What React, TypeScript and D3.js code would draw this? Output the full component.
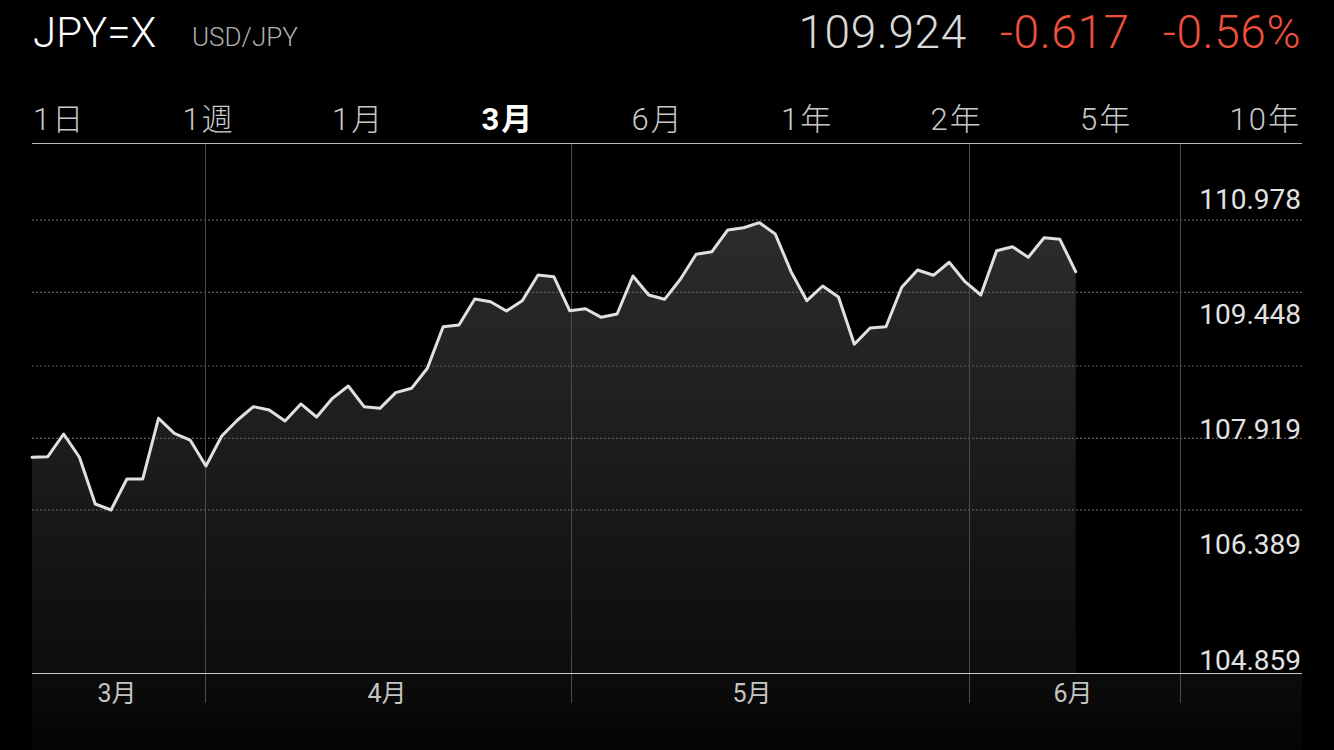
import React, { useEffect, useRef } from "react";
import * as d3 from "d3";

// ---- data ----
const symbol = "JPY=X";
const pairName = "USD/JPY";
const lastPrice = "109.924";
const change = "-0.617";
const changePct = "-0.56%";

const rangeTabs = ["1日", "1週", "1月", "3月", "6月", "1年", "2年", "5年", "10年"];
const activeTab = "3月";

const closes = [
  107.545, 107.553, 107.854, 107.545, 106.924, 106.845, 107.256, 107.256, 108.063, 107.863,
  107.774, 107.429, 107.828, 108.04, 108.217, 108.173, 108.027, 108.253, 108.08, 108.328,
  108.492, 108.217, 108.195, 108.403, 108.461, 108.727, 109.279, 109.302, 109.647, 109.611,
  109.488, 109.625, 109.966, 109.943, 109.492, 109.518, 109.404, 109.448, 109.953, 109.7,
  109.643, 109.909, 110.241, 110.275, 110.564, 110.594, 110.661, 110.511, 110.01, 109.625,
  109.82, 109.674, 109.047, 109.262, 109.279, 109.803, 110.032, 109.962, 110.135, 109.877,
  109.7, 110.289, 110.342, 110.201, 110.461, 110.44, 110.01,
];

const yTickLabels = [110.978, 109.448, 107.919, 106.389, 104.859];
const yGridValues = [110.696, 109.736, 108.757, 107.797, 106.845];

const monthLabels = ["3月", "4月", "5月", "6月"];
const monthLabelIdx = [5.38, 22.45, 45.53, 65.83];
const monthLineIdx = [10.94, 34.11, 59.25, 72.59];

const FONT = "Roboto, 'Noto Sans CJK JP', sans-serif";

export default function App() {
  const ref = useRef<SVGSVGElement | null>(null);

  useEffect(() => {
    document.body.style.margin = "0";
    document.body.style.background = "#000";
    const svg = d3.select(ref.current);
    svg.selectAll("*").remove();

    const W = 1334;
    const left = 32;
    const right = 1302;
    const top = 143;
    const base = 673;

    const x = d3.scaleLinear().domain([0, closes.length - 1]).range([left, 1075.7]);
    const y = d3.scaleLinear().domain([104.859, 110.978]).range([659.5, 198.8]);

    const defs = svg.append("defs");
    const g1 = defs
      .append("linearGradient")
      .attr("id", "areaGrad")
      .attr("gradientUnits", "userSpaceOnUse")
      .attr("x1", 0)
      .attr("x2", 0)
      .attr("y1", 220)
      .attr("y2", base);
    g1.append("stop").attr("offset", "0").attr("stop-color", "#2c2c2c");
    g1.append("stop").attr("offset", "1").attr("stop-color", "#0d0d0d");
    const g2 = defs
      .append("linearGradient")
      .attr("id", "belowGrad")
      .attr("gradientUnits", "userSpaceOnUse")
      .attr("x1", 0)
      .attr("x2", 0)
      .attr("y1", base)
      .attr("y2", 750);
    g2.append("stop").attr("offset", "0").attr("stop-color", "#0c0c0c");
    g2.append("stop").attr("offset", "1").attr("stop-color", "#040404");

    svg.append("rect").attr("width", W).attr("height", 750).attr("fill", "#000");

    // below-baseline subtle fill
    svg
      .append("rect")
      .attr("x", left)
      .attr("y", base)
      .attr("width", right - left)
      .attr("height", 750 - base)
      .attr("fill", "url(#belowGrad)");

    // area
    const area = d3
      .area<number>()
      .x((_, i) => x(i))
      .y0(base)
      .y1((d) => y(d));
    svg.append("path").datum(closes).attr("d", area).attr("fill", "url(#areaGrad)");

    // dotted horizontal gridlines
    svg
      .selectAll(".hgrid")
      .data(yGridValues)
      .enter()
      .append("line")
      .attr("x1", left)
      .attr("x2", right)
      .attr("y1", (d) => y(d))
      .attr("y2", (d) => y(d))
      .attr("stroke", "#5c5c5c")
      .attr("stroke-width", 1.2)
      .attr("stroke-dasharray", "2 2");

    // vertical month lines
    svg
      .selectAll(".vgrid")
      .data(monthLineIdx)
      .enter()
      .append("line")
      .attr("x1", (d) => Math.round(x(d)) + 0.5)
      .attr("x2", (d) => Math.round(x(d)) + 0.5)
      .attr("y1", top)
      .attr("y2", 703)
      .attr("stroke", "#4a4a4a")
      .attr("stroke-width", 1);

    // line
    const line = d3
      .line<number>()
      .x((_, i) => x(i))
      .y((d) => y(d));
    svg
      .append("path")
      .datum(closes)
      .attr("d", line)
      .attr("fill", "none")
      .attr("stroke", "#e0e0e0")
      .attr("stroke-width", 3)
      .attr("stroke-linejoin", "round")
      .attr("stroke-linecap", "round");

    // top rule and baseline
    svg
      .append("line")
      .attr("x1", left)
      .attr("x2", right)
      .attr("y1", top + 0.5)
      .attr("y2", top + 0.5)
      .attr("stroke", "#b5b5b5");
    svg
      .append("line")
      .attr("x1", left)
      .attr("x2", right)
      .attr("y1", base + 0.5)
      .attr("y2", base + 0.5)
      .attr("stroke", "#c8c8c8");

    // y labels
    svg
      .selectAll(".ylab")
      .data(yTickLabels)
      .enter()
      .append("text")
      .attr("x", 1301)
      .attr("y", (d) => y(d) + 10)
      .attr("text-anchor", "end")
      .attr("font-family", FONT)
      .attr("font-size", 28)
      .attr("fill", "#e2e2e2")
      .text((d) => d.toFixed(3));

    // month labels
    svg
      .selectAll(".mlab")
      .data(monthLabels)
      .enter()
      .append("text")
      .attr("x", (_, i) => x(monthLabelIdx[i]))
      .attr("y", 702)
      .attr("text-anchor", "middle")
      .attr("font-family", FONT)
      .attr("font-size", 25)
      .attr("fill", "#c4c4c4")
      .text((d) => d);

    // header
    svg
      .append("text")
      .attr("x", 33)
      .attr("y", 47)
      .attr("font-family", FONT)
      .attr("font-weight", 300)
      .attr("font-size", 42)
      .attr("fill", "#ffffff")
      .text(symbol);
    svg
      .append("text")
      .attr("x", 192)
      .attr("y", 46)
      .attr("font-family", FONT)
      .attr("font-weight", 300)
      .attr("font-size", 26)
      .attr("fill", "#b0b0b0")
      .text(pairName);

    const quote = svg
      .append("text")
      .attr("x", 1301)
      .attr("y", 48)
      .attr("text-anchor", "end")
      .attr("font-family", FONT)
      .attr("font-weight", 300)
      .attr("font-size", 46)
      .attr("letter-spacing", 0.6);
    quote.append("tspan").attr("fill", "#d9d9d9").text(lastPrice);
    quote.append("tspan").attr("dx", 33).attr("fill", "#ec4f3b").text(change);
    quote.append("tspan").attr("dx", 33).attr("fill", "#ec4f3b").text(changePct);

    // range tabs (space-between)
    const tabs = svg
      .selectAll(".tab")
      .data(rangeTabs)
      .enter()
      .append("text")
      .attr("y", 130)
      .attr("font-family", FONT)
      .attr("font-size", 31)
      .attr("letter-spacing", 2)
      .attr("font-weight", (d) => (d === activeTab ? 700 : 300))
      .attr("fill", (d) => (d === activeTab ? "#ffffff" : "#c8c8c8"))
      .text((d) => d);
    const widths: number[] = [];
    tabs.each(function () {
      widths.push((this as SVGTextElement).getComputedTextLength());
    });
    const total = d3.sum(widths);
    const gap = (1301 - 33 - total) / (rangeTabs.length - 1);
    let cx = 33;
    const xs: number[] = [];
    widths.forEach((w) => {
      xs.push(cx);
      cx += w + gap;
    });
    tabs.attr("x", (_, i) => xs[i]);
  }, []);

  return <svg ref={ref} width={1334} height={750} style={{ display: "block" }} />;
}
